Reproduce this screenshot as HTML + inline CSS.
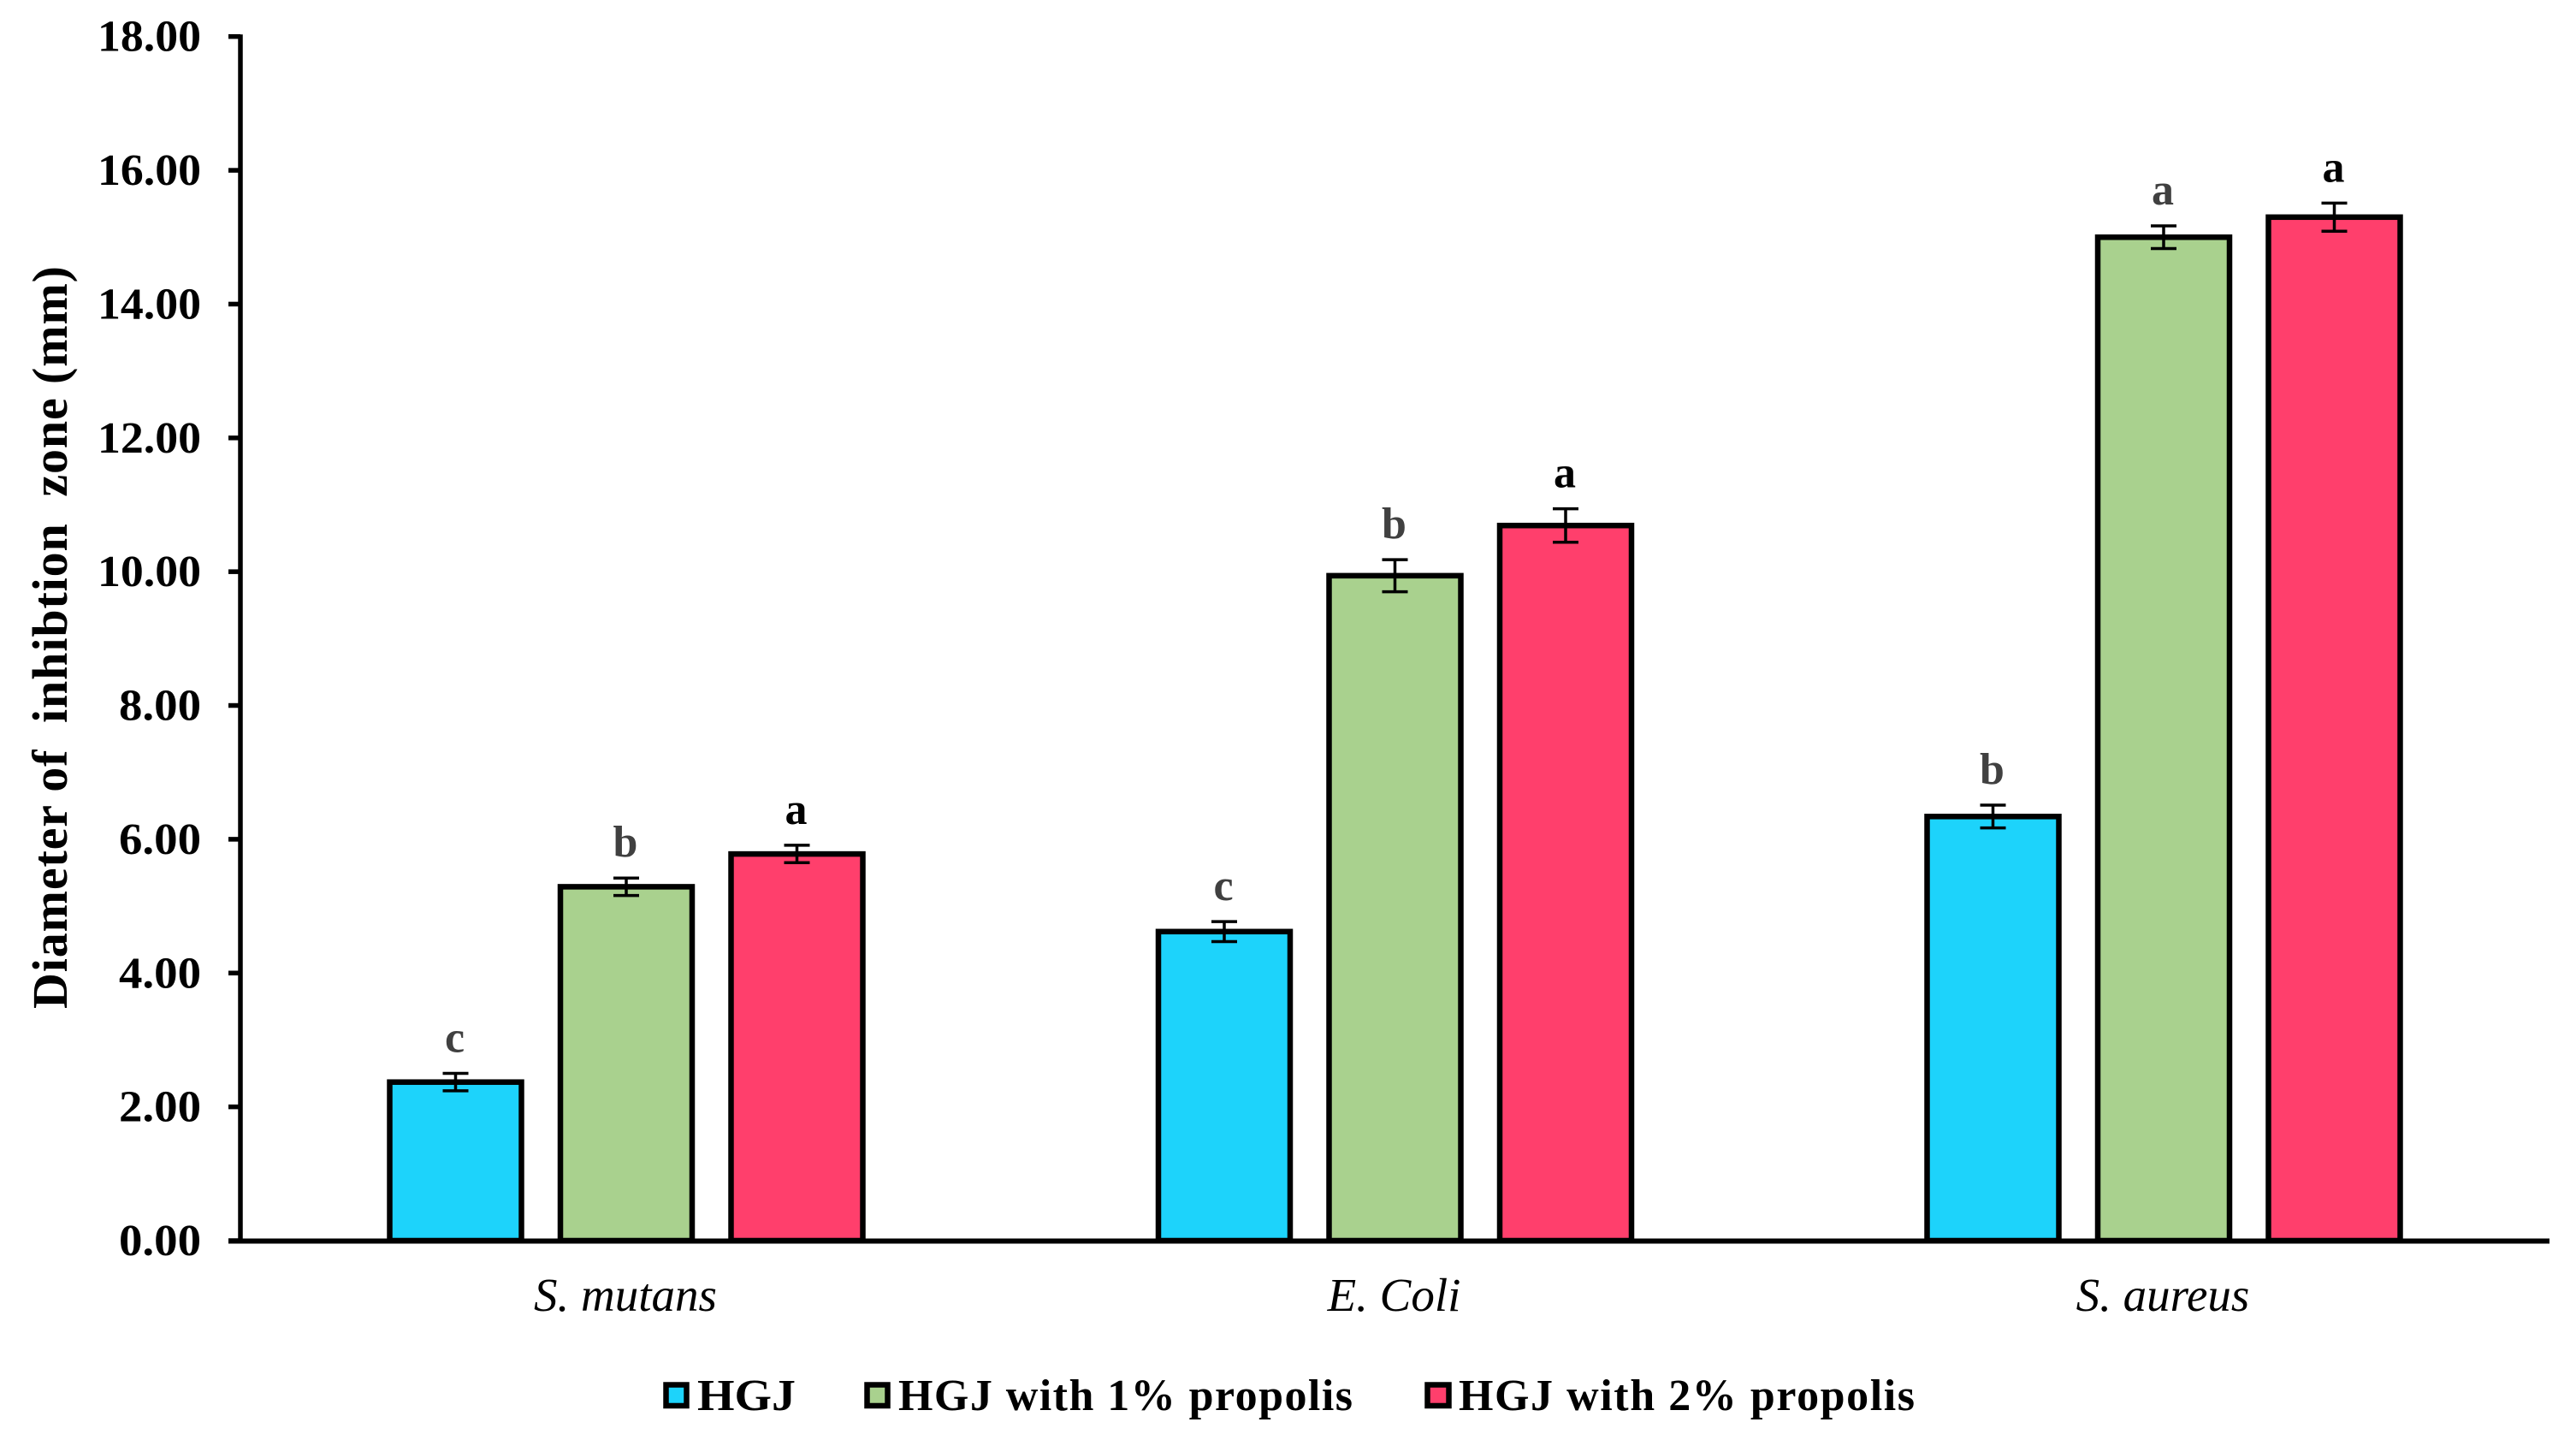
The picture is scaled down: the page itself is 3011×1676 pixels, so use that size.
<!DOCTYPE html>
<html lang="en">
<head>
<meta charset="utf-8">
<title>Diameter of inhibition zone</title>
<style>
html,body{margin:0;padding:0;background:#fff;width:3011px;height:1676px;overflow:hidden}
svg{display:block;font-family:"Liberation Serif",serif}
text{white-space:pre}
</style>
</head>
<body>
<svg id="chart" xmlns="http://www.w3.org/2000/svg" width="3011" height="1676" viewBox="0 0 3011 1676">
  <rect x="0" y="0" width="3011" height="1676" fill="#ffffff"/>
  <g id="marks"></g>
  <g id="axes"></g>
  <text transform="translate(78,1179) rotate(-90)" font-size="58" font-weight="bold" fill="#000" textLength="868" lengthAdjust="spacing">Diameter of  inhibtion  zone (mm)</text>
  <g>
    <g>
      <rect x="778.5" y="1618.5" width="24" height="24.5" fill="#1dd3fb" stroke="#000" stroke-width="6.5"/>
      <text x="815" y="1648" font-size="52" font-weight="bold" textLength="115" lengthAdjust="spacingAndGlyphs">HGJ</text>
    </g>
    <g>
      <rect x="1013.5" y="1618.5" width="24" height="24.5" fill="#a9d18e" stroke="#000" stroke-width="6.5"/>
      <text x="1050" y="1648" font-size="52" font-weight="bold" textLength="531" lengthAdjust="spacing">HGJ with 1% propolis</text>
    </g>
    <g>
      <rect x="1668.5" y="1618.5" width="25" height="24.5" fill="#ff3f6c" stroke="#000" stroke-width="6.5"/>
      <text x="1705" y="1648" font-size="52" font-weight="bold" textLength="533" lengthAdjust="spacing">HGJ with 2% propolis</text>
    </g>
  </g>
</svg>
<script>
const categories = ["S. mutans", "E. Coli", "S. aureus"];
const seriesNames = ["HGJ", "HGJ with 1% propolis", "HGJ with 2% propolis"];
const hgjValues = [2.37, 4.62, 6.34];
const propolis1Values = [5.29, 9.94, 15.0];
const propolis2Values = [5.78, 10.69, 15.3];
const hgjErrors = [0.13, 0.15, 0.17];
const propolis1Errors = [0.13, 0.24, 0.17];
const propolis2Errors = [0.13, 0.25, 0.21];
const hgjLetters = ["c", "c", "b"];
const propolis1Letters = ["b", "b", "a"];
const propolis2Letters = ["a", "a", "a"];
const yTickValues = [0, 2, 4, 6, 8, 10, 12, 14, 16, 18];
const yTickLabels = ["0.00", "2.00", "4.00", "6.00", "8.00", "10.00", "12.00", "14.00", "16.00", "18.00"];

const NS = "http://www.w3.org/2000/svg";
const marks = document.getElementById("marks");
const axes = document.getElementById("axes");

function yScale(v) { return 1450 - v * (1450 - 42.7) / yTickValues[yTickValues.length - 1]; }
function xGroup(i) { return 732 + 898.5 * i; }
function xBar(i, s) { return xGroup(i) + 199.5 * (s - 1); }
function make(tag, attrs, parent) {
  const el = document.createElementNS(NS, tag);
  for (const k in attrs) el.setAttribute(k, attrs[k]);
  parent.appendChild(el);
  return el;
}
function slug(s) { return s.toLowerCase().replace(/[^a-z0-9]+/g, "-").replace(/^-|-$/g, ""); }

const seriesValues = [hgjValues, propolis1Values, propolis2Values];
const seriesErrors = [hgjErrors, propolis1Errors, propolis2Errors];
const seriesLetters = [hgjLetters, propolis1Letters, propolis2Letters];
const seriesFills = ["#1dd3fb", "#a9d18e", "#ff3f6c"];
const letterFills = ["#404040", "#404040", "#000000"];
const BAR_W = 154;

seriesValues.forEach(function (values, s) {
  values.forEach(function (v, i) {
    const cx = xBar(i, s);
    const base = slug(categories[i]) + "-" + slug(seriesNames[s]);

    const bar = make("rect", { x: cx - BAR_W / 2, y: yScale(v), width: BAR_W, height: yScale(0) - yScale(v), fill: seriesFills[s], stroke: "#000", "stroke-width": 6.5 }, marks);
    
    

    const err = seriesErrors[s][i];
    const top = yScale(v + err);
    const bot = yScale(v - err);
    const eg = make("g", { stroke: "#000", "stroke-width": 3.5, fill: "none" }, marks);
    
    
    make("line", { x1: cx, x2: cx, y1: top, y2: bot }, eg);
    make("line", { x1: cx - 15, x2: cx + 15, y1: top, y2: top }, eg);
    make("line", { x1: cx - 15, x2: cx + 15, y1: bot, y2: bot }, eg);

    const letter = make("text", { x: cx - 1, y: top - 25, "font-size": 52, "font-weight": "bold", "text-anchor": "middle", fill: letterFills[s] }, marks);
    letter.textContent = seriesLetters[s][i];
    
    
  });
});

const yAxisLine = make("line", { x1: 281, x2: 281, y1: yScale(18) - 2.5, y2: yScale(0), stroke: "#000", "stroke-width": 5.5 }, axes);



const xAxisLine = make("line", { x1: 267, x2: 2980, y1: yScale(0) + 0.5, y2: yScale(0) + 0.5, stroke: "#000", "stroke-width": 6 }, axes);



yTickValues.forEach(function (v, i) {
  const y = yScale(v);
  const tick = make("line", { x1: 267, x2: 281, y1: y, y2: y, stroke: "#000", "stroke-width": 5.5 }, axes);
  
  
  const isLong = yTickLabels[i].length > 4;
  const attrs = { x: isLong ? 114 : 139, y: y + 17, "font-size": 52, "font-weight": "bold", fill: "#000", textLength: isLong ? 121 : 96, lengthAdjust: "spacingAndGlyphs" };
  const label = make("text", attrs, axes);
  label.textContent = yTickLabels[i];
  
  
});

categories.forEach(function (c, i) {
  const label = make("text", { x: xGroup(i) - 1, y: 1532, "font-size": 55, "font-style": "italic", "text-anchor": "middle", fill: "#000" }, axes);
  label.textContent = c;
  
  
});
</script>
</body>
</html>
